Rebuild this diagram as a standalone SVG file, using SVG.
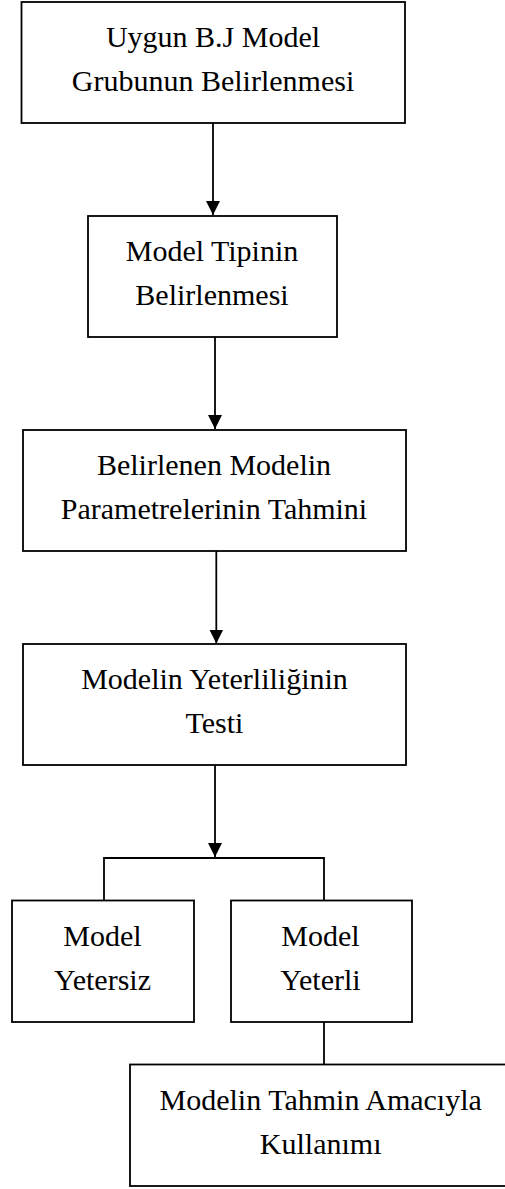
<svg xmlns="http://www.w3.org/2000/svg" width="505" height="1189" viewBox="0 0 505 1189">
<style>
.box{fill:#fff;stroke:#000;stroke-width:1.8}
.t{font-family:"Liberation Serif","Times New Roman",serif;font-size:30px;fill:#000;text-anchor:middle}
.c{fill:none;stroke:#000;stroke-width:1.8}
</style>
<defs>
<marker id="ah" markerUnits="userSpaceOnUse" markerWidth="14" markerHeight="16" refX="14" refY="7" orient="auto" viewBox="0 0 14 14">
<path d="M0,0 L14,7 L0,14 Z" fill="#000"/>
</marker>
</defs>
<rect width="505" height="1189" fill="#fff"/>
<g id="n1"><rect class="box" x="21.5" y="2" width="383.5" height="121"/>
<text class="t" x="213" y="47">Uygun B.J Model</text>
<text class="t" x="213" y="91">Grubunun Belirlenmesi</text></g>
<g id="n2"><rect class="box" x="88" y="216" width="249" height="121"/>
<text class="t" x="212" y="261">Model Tipinin</text>
<text class="t" x="212" y="305">Belirlenmesi</text></g>
<g id="n3"><rect class="box" x="23" y="430" width="383" height="121"/>
<text class="t" x="214" y="475">Belirlenen Modelin</text>
<text class="t" x="214" y="518.5">Parametrelerinin Tahmini</text></g>
<g id="n4"><rect class="box" x="23" y="644" width="383" height="121"/>
<text class="t" x="214.5" y="688.5">Modelin Yeterliliğinin</text>
<text class="t" x="214.5" y="733">Testi</text></g>
<g id="n5"><rect class="box" x="12" y="900.5" width="182" height="121.5"/>
<text class="t" x="102.5" y="946">Model</text>
<text class="t" x="102.5" y="989.5">Yetersiz</text></g>
<g id="n6"><rect class="box" x="231" y="900.5" width="181" height="121.5"/>
<text class="t" x="320.5" y="946">Model</text>
<text class="t" x="320.5" y="989.5">Yeterli</text></g>
<g id="n7"><rect class="box" x="130" y="1064.5" width="385" height="121.5"/>
<text class="t" x="320.7" y="1109.5">Modelin Tahmin Amacıyla</text>
<text class="t" x="320.7" y="1153.5">Kullanımı</text></g>
<g id="connectors">
<path class="c" d="M213,123 V215" marker-end="url(#ah)"/>
<path class="c" d="M215,337 V429" marker-end="url(#ah)"/>
<path class="c" d="M216.3,551 V643.5" marker-end="url(#ah)"/>
<path class="c" d="M215,765 V857" marker-end="url(#ah)"/>
<path class="c" d="M104,900.5 V858 H324 V900.5"/>
<path class="c" d="M324,1022 V1064.5"/>
</g>
</svg>
